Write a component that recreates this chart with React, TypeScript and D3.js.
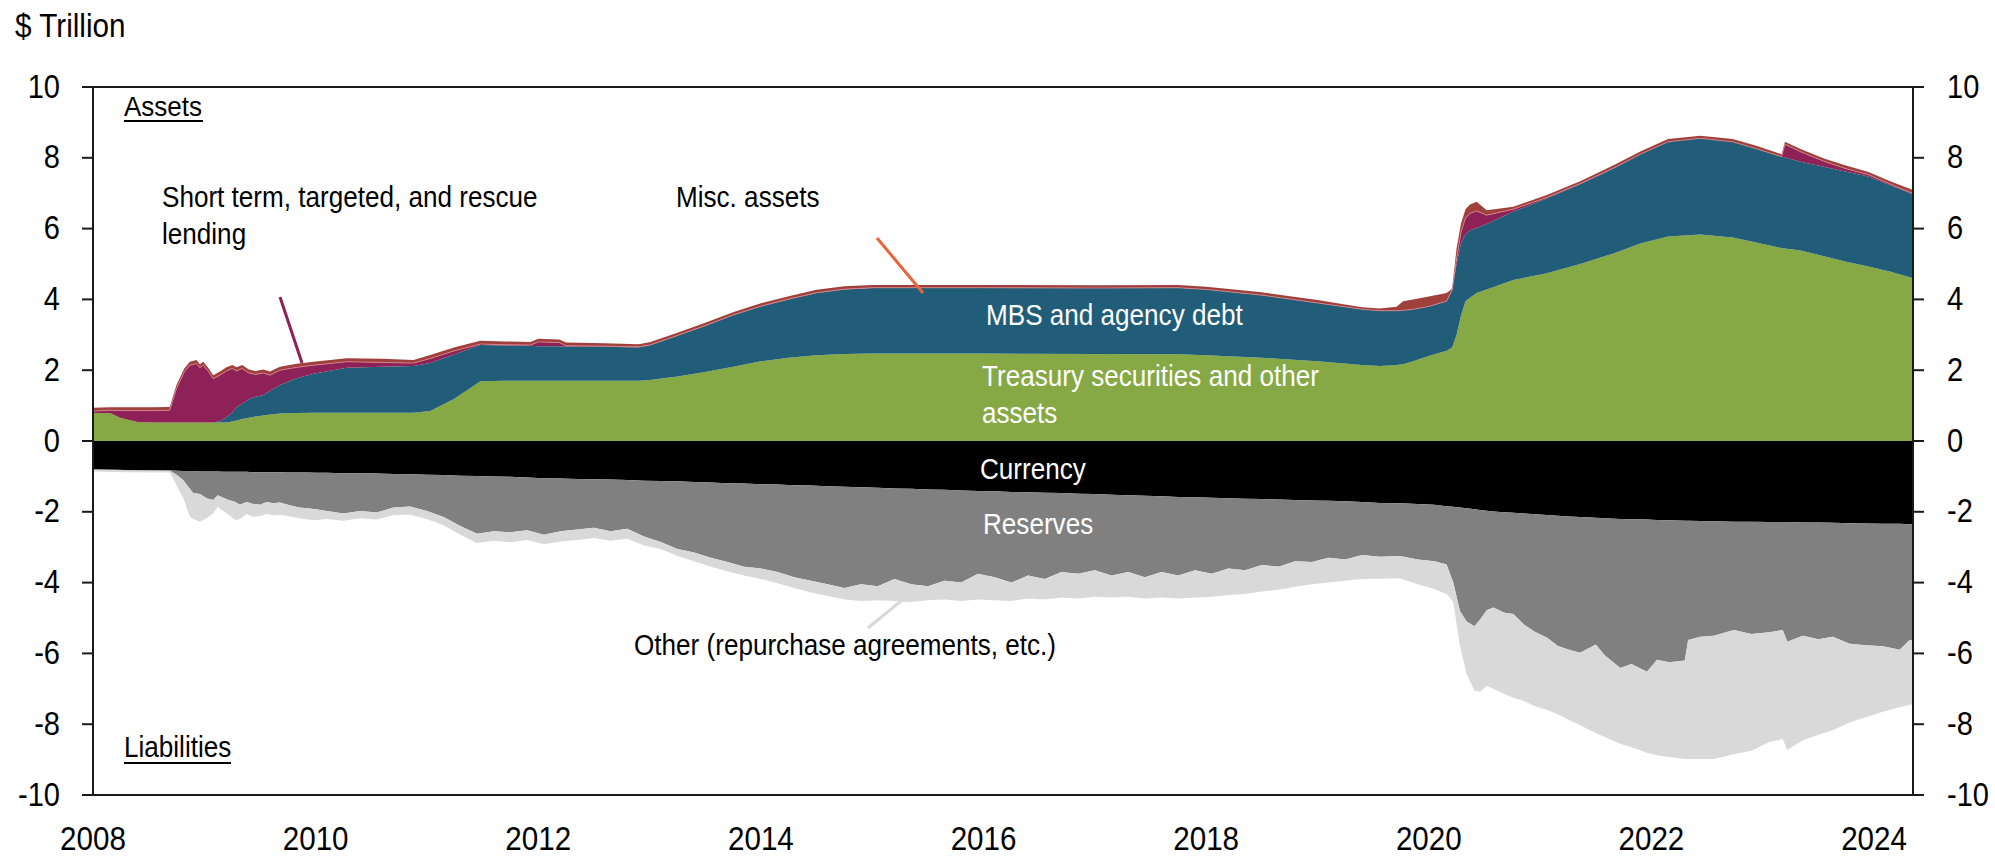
import React from 'react';
import * as d3 from 'd3';

const W = 1995;
const H = 856;
const FONT = '"Liberation Sans", Arial, Helvetica, sans-serif';

// ---- Axis ticks ----
const yTickValues = [-10, -8, -6, -4, -2, 0, 2, 4, 6, 8, 10];
const xTickYears = [2008, 2010, 2012, 2014, 2016, 2018, 2020, 2022, 2024];

// ---- Assets (stacked edges, $ trillion) ----
const assetDates = [
  2008.00, 2008.15, 2008.25, 2008.40, 2008.55, 2008.69, 2008.75, 2008.82, 2008.87, 2008.93,
  2008.96, 2008.99, 2009.04, 2009.08, 2009.14, 2009.20, 2009.25, 2009.29, 2009.34, 2009.40,
  2009.46, 2009.53, 2009.59, 2009.68, 2009.83, 2009.98, 2010.28, 2010.60, 2010.88, 2011.03,
  2011.25, 2011.48, 2011.70, 2011.93, 2012.00, 2012.19, 2012.25, 2012.60, 2012.90, 2013.00,
  2013.25, 2013.50, 2013.75, 2014.00, 2014.25, 2014.50, 2014.75, 2015.00, 2016.00, 2017.00,
  2017.75, 2018.00, 2018.50, 2019.00, 2019.40, 2019.56, 2019.71, 2019.77, 2019.86, 2020.00,
  2020.16, 2020.21, 2020.25, 2020.29, 2020.33, 2020.37, 2020.43, 2020.52, 2020.76, 2021.06,
  2021.36, 2021.66, 2021.90, 2022.15, 2022.44, 2022.73, 2022.95, 2023.17, 2023.20, 2023.34,
  2023.55, 2023.74, 2023.95, 2024.15, 2024.35,
];
// Treasury securities and other assets (top edge)
const treasuryTop = [
  0.79, 0.79, 0.65, 0.54, 0.52, 0.52, 0.52, 0.52, 0.52, 0.52,
  0.52, 0.52, 0.52, 0.52, 0.52, 0.52, 0.55, 0.58, 0.62, 0.66,
  0.69, 0.72, 0.75, 0.78, 0.79, 0.80, 0.80, 0.80, 0.80, 0.85,
  1.20, 1.69, 1.70, 1.70, 1.70, 1.70, 1.70, 1.70, 1.70, 1.72,
  1.82, 1.95, 2.10, 2.25, 2.35, 2.42, 2.46, 2.47, 2.47, 2.46,
  2.45, 2.42, 2.35, 2.25, 2.15, 2.12, 2.15, 2.17, 2.25, 2.40,
  2.55, 2.65, 3.00, 3.55, 3.95, 4.05, 4.18, 4.28, 4.55, 4.74,
  5.00, 5.30, 5.58, 5.78, 5.83, 5.75, 5.60, 5.45, 5.44, 5.38,
  5.22, 5.07, 4.93, 4.78, 4.60,
];
// MBS and agency debt (top edge)
const mbsTop = [
  0.79, 0.79, 0.65, 0.54, 0.52, 0.52, 0.52, 0.52, 0.52, 0.52,
  0.52, 0.52, 0.52, 0.52, 0.56, 0.68, 0.80, 0.95, 1.05, 1.18,
  1.25, 1.30, 1.42, 1.58, 1.77, 1.90, 2.07, 2.10, 2.12, 2.20,
  2.45, 2.71, 2.70, 2.69, 2.68, 2.68, 2.67, 2.66, 2.64, 2.70,
  2.97, 3.25, 3.55, 3.80, 4.00, 4.18, 4.28, 4.32, 4.33, 4.32,
  4.33, 4.28, 4.12, 3.90, 3.72, 3.68, 3.68, 3.69, 3.72, 3.80,
  3.95, 4.25, 5.00, 5.59, 5.85, 5.95, 6.02, 6.13, 6.48, 6.85,
  7.25, 7.70, 8.10, 8.45, 8.55, 8.45, 8.25, 8.03, 8.01, 7.89,
  7.75, 7.61, 7.47, 7.22, 6.97,
];
// Short term, targeted, and rescue lending (top edge)
const lendingTop = [
  0.84, 0.87, 0.86, 0.86, 0.86, 0.87, 1.48, 1.95, 2.14, 2.19,
  2.07, 2.14, 1.95, 1.76, 1.86, 1.98, 2.05, 1.98, 2.05, 1.92,
  1.88, 1.92, 1.86, 2.00, 2.08, 2.14, 2.24, 2.22, 2.20, 2.33,
  2.55, 2.74, 2.72, 2.71, 2.80, 2.78, 2.69, 2.68, 2.66, 2.71,
  2.98, 3.26, 3.56, 3.81, 4.01, 4.19, 4.29, 4.33, 4.33, 4.32,
  4.33, 4.28, 4.12, 3.90, 3.72, 3.68, 3.68, 3.69, 3.72, 3.80,
  3.95, 4.27, 5.15, 5.90, 6.30, 6.43, 6.50, 6.38, 6.55, 6.88,
  7.27, 7.71, 8.10, 8.45, 8.55, 8.45, 8.25, 8.03, 8.38, 8.17,
  7.90, 7.70, 7.52, 7.25, 6.99,
];
// Misc. assets (top edge = total assets)
const miscTop = [
  0.94, 0.95, 0.95, 0.95, 0.95, 0.96, 1.58, 2.05, 2.24, 2.29,
  2.17, 2.24, 2.05, 1.86, 1.96, 2.08, 2.15, 2.08, 2.15, 2.02,
  1.98, 2.02, 1.96, 2.10, 2.18, 2.24, 2.34, 2.32, 2.29, 2.43,
  2.65, 2.83, 2.81, 2.80, 2.89, 2.87, 2.78, 2.76, 2.73, 2.79,
  3.06, 3.34, 3.64, 3.89, 4.09, 4.27, 4.37, 4.41, 4.41, 4.40,
  4.41, 4.36, 4.20, 3.98, 3.78, 3.74, 3.79, 3.95, 4.00, 4.08,
  4.18, 4.30, 5.45, 6.15, 6.55, 6.68, 6.76, 6.52, 6.62, 6.95,
  7.34, 7.79, 8.18, 8.53, 8.62, 8.53, 8.33, 8.10, 8.45, 8.25,
  7.98, 7.79, 7.60, 7.33, 7.09,
];

// ---- Liabilities (stacked edges, negative, $ trillion) ----
const liabDates = [
  2008.00, 2008.30, 2008.69, 2008.75, 2008.81, 2008.87, 2008.90, 2008.96, 2009.02, 2009.08,
  2009.12, 2009.17, 2009.22, 2009.28, 2009.32, 2009.38, 2009.44, 2009.50, 2009.56, 2009.62,
  2009.68, 2009.75, 2009.85, 2009.93, 2010.00, 2010.10, 2010.25, 2010.40, 2010.55, 2010.70,
  2010.85, 2011.00, 2011.15, 2011.30, 2011.45, 2011.60, 2011.75, 2011.90, 2012.05, 2012.20,
  2012.35, 2012.50, 2012.65, 2012.80, 2012.95, 2013.10, 2013.25, 2013.40, 2013.55, 2013.70,
  2013.85, 2014.00, 2014.15, 2014.30, 2014.45, 2014.60, 2014.75, 2014.90, 2015.05, 2015.20,
  2015.35, 2015.50, 2015.65, 2015.80, 2015.95, 2016.10, 2016.25, 2016.40, 2016.55, 2016.70,
  2016.85, 2017.00, 2017.15, 2017.30, 2017.45, 2017.60, 2017.75, 2017.90, 2018.05, 2018.20,
  2018.35, 2018.50, 2018.65, 2018.80, 2018.95, 2019.10, 2019.25, 2019.40, 2019.56, 2019.74,
  2019.90, 2020.05, 2020.16, 2020.22, 2020.28, 2020.34, 2020.41, 2020.46, 2020.52, 2020.58,
  2020.68, 2020.76, 2020.86, 2020.96, 2021.06, 2021.16, 2021.26, 2021.36, 2021.50, 2021.58,
  2021.72, 2021.82, 2021.96, 2022.05, 2022.16, 2022.30, 2022.33, 2022.44, 2022.56, 2022.74,
  2022.90, 2023.06, 2023.18, 2023.22, 2023.36, 2023.50, 2023.63, 2023.78, 2023.93, 2024.08,
  2024.23, 2024.32, 2024.35,
];
// Currency (bottom edge)
const currencyBottom = [
  -0.80, -0.82, -0.83, -0.84, -0.85, -0.85, -0.85, -0.86, -0.86, -0.86,
  -0.86, -0.87, -0.87, -0.87, -0.87, -0.87, -0.88, -0.88, -0.88, -0.88,
  -0.88, -0.89, -0.89, -0.89, -0.90, -0.90, -0.91, -0.91, -0.92, -0.93,
  -0.94, -0.95, -0.96, -0.98, -0.99, -1.00, -1.01, -1.03, -1.05, -1.06,
  -1.07, -1.08, -1.09, -1.10, -1.12, -1.13, -1.14, -1.16, -1.17, -1.19,
  -1.20, -1.22, -1.23, -1.25, -1.26, -1.28, -1.29, -1.31, -1.32, -1.34,
  -1.35, -1.37, -1.38, -1.40, -1.41, -1.42, -1.44, -1.45, -1.46, -1.47,
  -1.49, -1.50, -1.52, -1.53, -1.55, -1.56, -1.58, -1.59, -1.60, -1.62,
  -1.63, -1.64, -1.65, -1.67, -1.68, -1.69, -1.70, -1.72, -1.75, -1.76,
  -1.78, -1.80, -1.84, -1.86, -1.88, -1.90, -1.93, -1.95, -1.97, -1.99,
  -2.01, -2.03, -2.05, -2.07, -2.09, -2.11, -2.13, -2.15, -2.17, -2.18,
  -2.20, -2.21, -2.22, -2.23, -2.24, -2.25, -2.25, -2.26, -2.27, -2.28,
  -2.28, -2.29, -2.29, -2.29, -2.30, -2.30, -2.31, -2.32, -2.33, -2.34,
  -2.34, -2.35, -2.35,
];
// Reserves (bottom edge)
const reservesBottom = [
  -0.81, -0.83, -0.84, -0.95, -1.10, -1.35, -1.47, -1.50, -1.62, -1.67,
  -1.53, -1.60, -1.67, -1.72, -1.80, -1.72, -1.78, -1.80, -1.72, -1.76,
  -1.74, -1.80, -1.88, -1.90, -1.93, -1.98, -2.05, -1.98, -2.02, -1.88,
  -1.85, -1.98, -2.15, -2.40, -2.62, -2.55, -2.58, -2.52, -2.65, -2.55,
  -2.50, -2.45, -2.55, -2.48, -2.70, -2.85, -3.05, -3.15, -3.30, -3.42,
  -3.55, -3.60, -3.70, -3.85, -3.95, -4.05, -4.15, -4.05, -4.10, -3.90,
  -4.05, -4.10, -3.95, -4.00, -3.75, -3.85, -4.00, -3.80, -3.90, -3.70,
  -3.75, -3.65, -3.80, -3.70, -3.85, -3.70, -3.80, -3.65, -3.75, -3.60,
  -3.65, -3.50, -3.55, -3.40, -3.42, -3.30, -3.35, -3.22, -3.27, -3.25,
  -3.35, -3.40, -3.49, -4.00, -4.80, -5.10, -5.23, -5.05, -4.78, -4.70,
  -4.85, -4.89, -5.20, -5.40, -5.55, -5.79, -5.90, -5.98, -5.75, -6.05,
  -6.41, -6.30, -6.52, -6.18, -6.25, -6.20, -5.62, -5.53, -5.50, -5.34,
  -5.45, -5.40, -5.34, -5.67, -5.50, -5.60, -5.53, -5.73, -5.77, -5.80,
  -5.90, -5.62, -5.62,
];
// Other (repurchase agreements, etc.) (bottom edge = total liabilities)
const otherBottom = [
  -0.86, -0.88, -0.89, -1.25, -1.60, -2.14, -2.20, -2.28, -2.18, -2.05,
  -1.86, -1.98, -2.08, -2.24, -2.20, -2.06, -2.14, -2.12, -2.06, -2.10,
  -2.08, -2.12, -2.18, -2.22, -2.24, -2.20, -2.25, -2.18, -2.22, -2.10,
  -2.08, -2.20, -2.38, -2.65, -2.88, -2.82, -2.86, -2.80, -2.92, -2.84,
  -2.80, -2.74, -2.82, -2.76, -2.95, -3.05, -3.25, -3.40, -3.55, -3.68,
  -3.80, -3.90, -4.02, -4.15, -4.28, -4.38, -4.48, -4.52, -4.50, -4.52,
  -4.55, -4.50, -4.48, -4.52, -4.48, -4.50, -4.52, -4.45, -4.48, -4.42,
  -4.45, -4.40, -4.42, -4.40, -4.45, -4.42, -4.45, -4.42, -4.40, -4.35,
  -4.32, -4.25, -4.20, -4.12, -4.05, -4.00, -3.95, -3.90, -3.89, -3.88,
  -4.05, -4.18, -4.32, -4.55, -5.79, -6.58, -7.05, -7.08, -6.92, -7.00,
  -7.15, -7.25, -7.35, -7.50, -7.59, -7.72, -7.88, -8.03, -8.25, -8.36,
  -8.55, -8.65, -8.81, -8.88, -8.93, -8.98, -8.98, -8.98, -8.98, -8.85,
  -8.75, -8.50, -8.42, -8.73, -8.45, -8.30, -8.17, -7.95, -7.80, -7.65,
  -7.52, -7.45, -7.43,
];

const COLORS = {
  treasury: '#86a845',
  mbs: '#215d78',
  lending: '#8e2157',
  misc: '#a0403d',
  currency: '#000000',
  reserves: '#808080',
  other: '#d9d9d9',
};

type TxtProps = {
  x: number; y: number; size: number; sx?: number; anchor?: 'start' | 'middle' | 'end';
  fill?: string; children: React.ReactNode;
};
const Txt = ({ x, y, size, sx = 0.9, anchor = 'start', fill = '#000', children }: TxtProps) => (
  <text
    transform={`translate(${x},${y}) scale(${sx},1)`}
    fontSize={size}
    fontFamily={FONT}
    textAnchor={anchor}
    fill={fill}
  >
    {children}
  </text>
);

export default function App() {
  const x = d3.scaleLinear().domain([2008, 2024.35]).range([93, 1913]);
  const y = d3.scaleLinear().domain([-10, 10]).range([795, 87]);

  const band = (dates: number[], lo: number[] | null, hi: number[]) =>
    d3
      .area<number>()
      .x((i) => x(dates[i]))
      .y0((i) => y(lo ? lo[i] : 0))
      .y1((i) => y(hi[i]))(d3.range(dates.length)) as string;

  const edge = (dates: number[], vals: number[]) =>
    d3
      .line<number>()
      .x((i) => x(dates[i]))
      .y((i) => y(vals[i]))(d3.range(dates.length)) as string;

  const left = x.range()[0];
  const right = x.range()[1];
  const top = y(10);
  const bottom = y(-10);
  const axisColor = '#1a1a1a';

  return (
    <svg
      width={W}
      height={H}
      viewBox={`0 0 ${W} ${H}`}
      style={{ position: 'absolute', left: 0, top: 0, display: 'block', background: '#fff' }}
    >
      <rect x={0} y={0} width={W} height={H} fill="#fff" />

      {/* Asset layers */}
      <path d={band(assetDates, null, treasuryTop)} fill={COLORS.treasury} />
      <path d={band(assetDates, treasuryTop, mbsTop)} fill={COLORS.mbs} />
      <path d={band(assetDates, mbsTop, lendingTop)} fill={COLORS.lending} />
      <path d={band(assetDates, lendingTop, miscTop)} fill={COLORS.misc} />
      <path d={edge(assetDates, lendingTop)} fill="none" stroke="#d98a8f" strokeWidth={0.8} />

      {/* Liability layers */}
      <path d={band(liabDates, null, currencyBottom)} fill={COLORS.currency} />
      <path d={band(liabDates, currencyBottom, reservesBottom)} fill={COLORS.reserves} />
      <path d={band(liabDates, reservesBottom, otherBottom)} fill={COLORS.other} />

      {/* Frame */}
      <line x1={left - 11} x2={right + 11} y1={top} y2={top} stroke={axisColor} strokeWidth={2} />
      <line x1={left - 11} x2={right + 11} y1={bottom} y2={bottom} stroke={axisColor} strokeWidth={2} />
      <line x1={left} x2={left} y1={top} y2={bottom} stroke={axisColor} strokeWidth={2} />
      <line x1={right} x2={right} y1={top} y2={bottom} stroke={axisColor} strokeWidth={2} />

      {/* Y ticks and labels */}
      {yTickValues.map((v) => (
        <g key={v}>
          <line x1={left - 11} x2={left} y1={y(v)} y2={y(v)} stroke={axisColor} strokeWidth={2} />
          <line x1={right} x2={right + 11} y1={y(v)} y2={y(v)} stroke={axisColor} strokeWidth={2} />
          <Txt x={60} y={y(v) + 10.5} size={33} sx={0.88} anchor="end">{v}</Txt>
          <Txt x={1947} y={y(v) + 10.5} size={33} sx={0.88} anchor="start">{v}</Txt>
        </g>
      ))}

      {/* X labels */}
      {xTickYears.map((yr) => (
        <Txt key={yr} x={x(yr)} y={850} size={34} sx={0.87} anchor="middle">{yr}</Txt>
      ))}

      {/* Title */}
      <Txt x={15} y={37} size={33} sx={0.9}>$ Trillion</Txt>

      {/* Section labels */}
      <Txt x={124} y={116} size={28} sx={0.93}>Assets</Txt>
      <line x1={124} x2={203} y1={121} y2={121} stroke="#000" strokeWidth={2} />
      <Txt x={124} y={757} size={29} sx={0.9}>Liabilities</Txt>
      <line x1={124} x2={231} y1={763} y2={763} stroke="#000" strokeWidth={2} />

      {/* Annotations */}
      <Txt x={162} y={207} size={29} sx={0.9}>Short term, targeted, and rescue</Txt>
      <Txt x={162} y={244} size={29} sx={0.9}>lending</Txt>
      <line x1={280} y1={297} x2={302} y2={363} stroke={COLORS.lending} strokeWidth={3} />

      <Txt x={676} y={207} size={29} sx={0.9}>Misc. assets</Txt>
      <line x1={877} y1={238} x2={923} y2={293} stroke="#e8643a" strokeWidth={3} />

      <Txt x={986} y={325} size={29} sx={0.9} fill="#fff">MBS and agency debt</Txt>
      <Txt x={982} y={386} size={29} sx={0.9} fill="#fff">Treasury securities and other</Txt>
      <Txt x={982} y={423} size={29} sx={0.9} fill="#fff">assets</Txt>
      <Txt x={980} y={479} size={29} sx={0.9} fill="#fff">Currency</Txt>
      <Txt x={983} y={534} size={29} sx={0.9} fill="#fff">Reserves</Txt>

      <Txt x={634} y={655} size={29} sx={0.9}>Other (repurchase agreements, etc.)</Txt>
      <line x1={868} y1={628} x2={912} y2={592} stroke={COLORS.other} strokeWidth={3} />
    </svg>
  );
}
